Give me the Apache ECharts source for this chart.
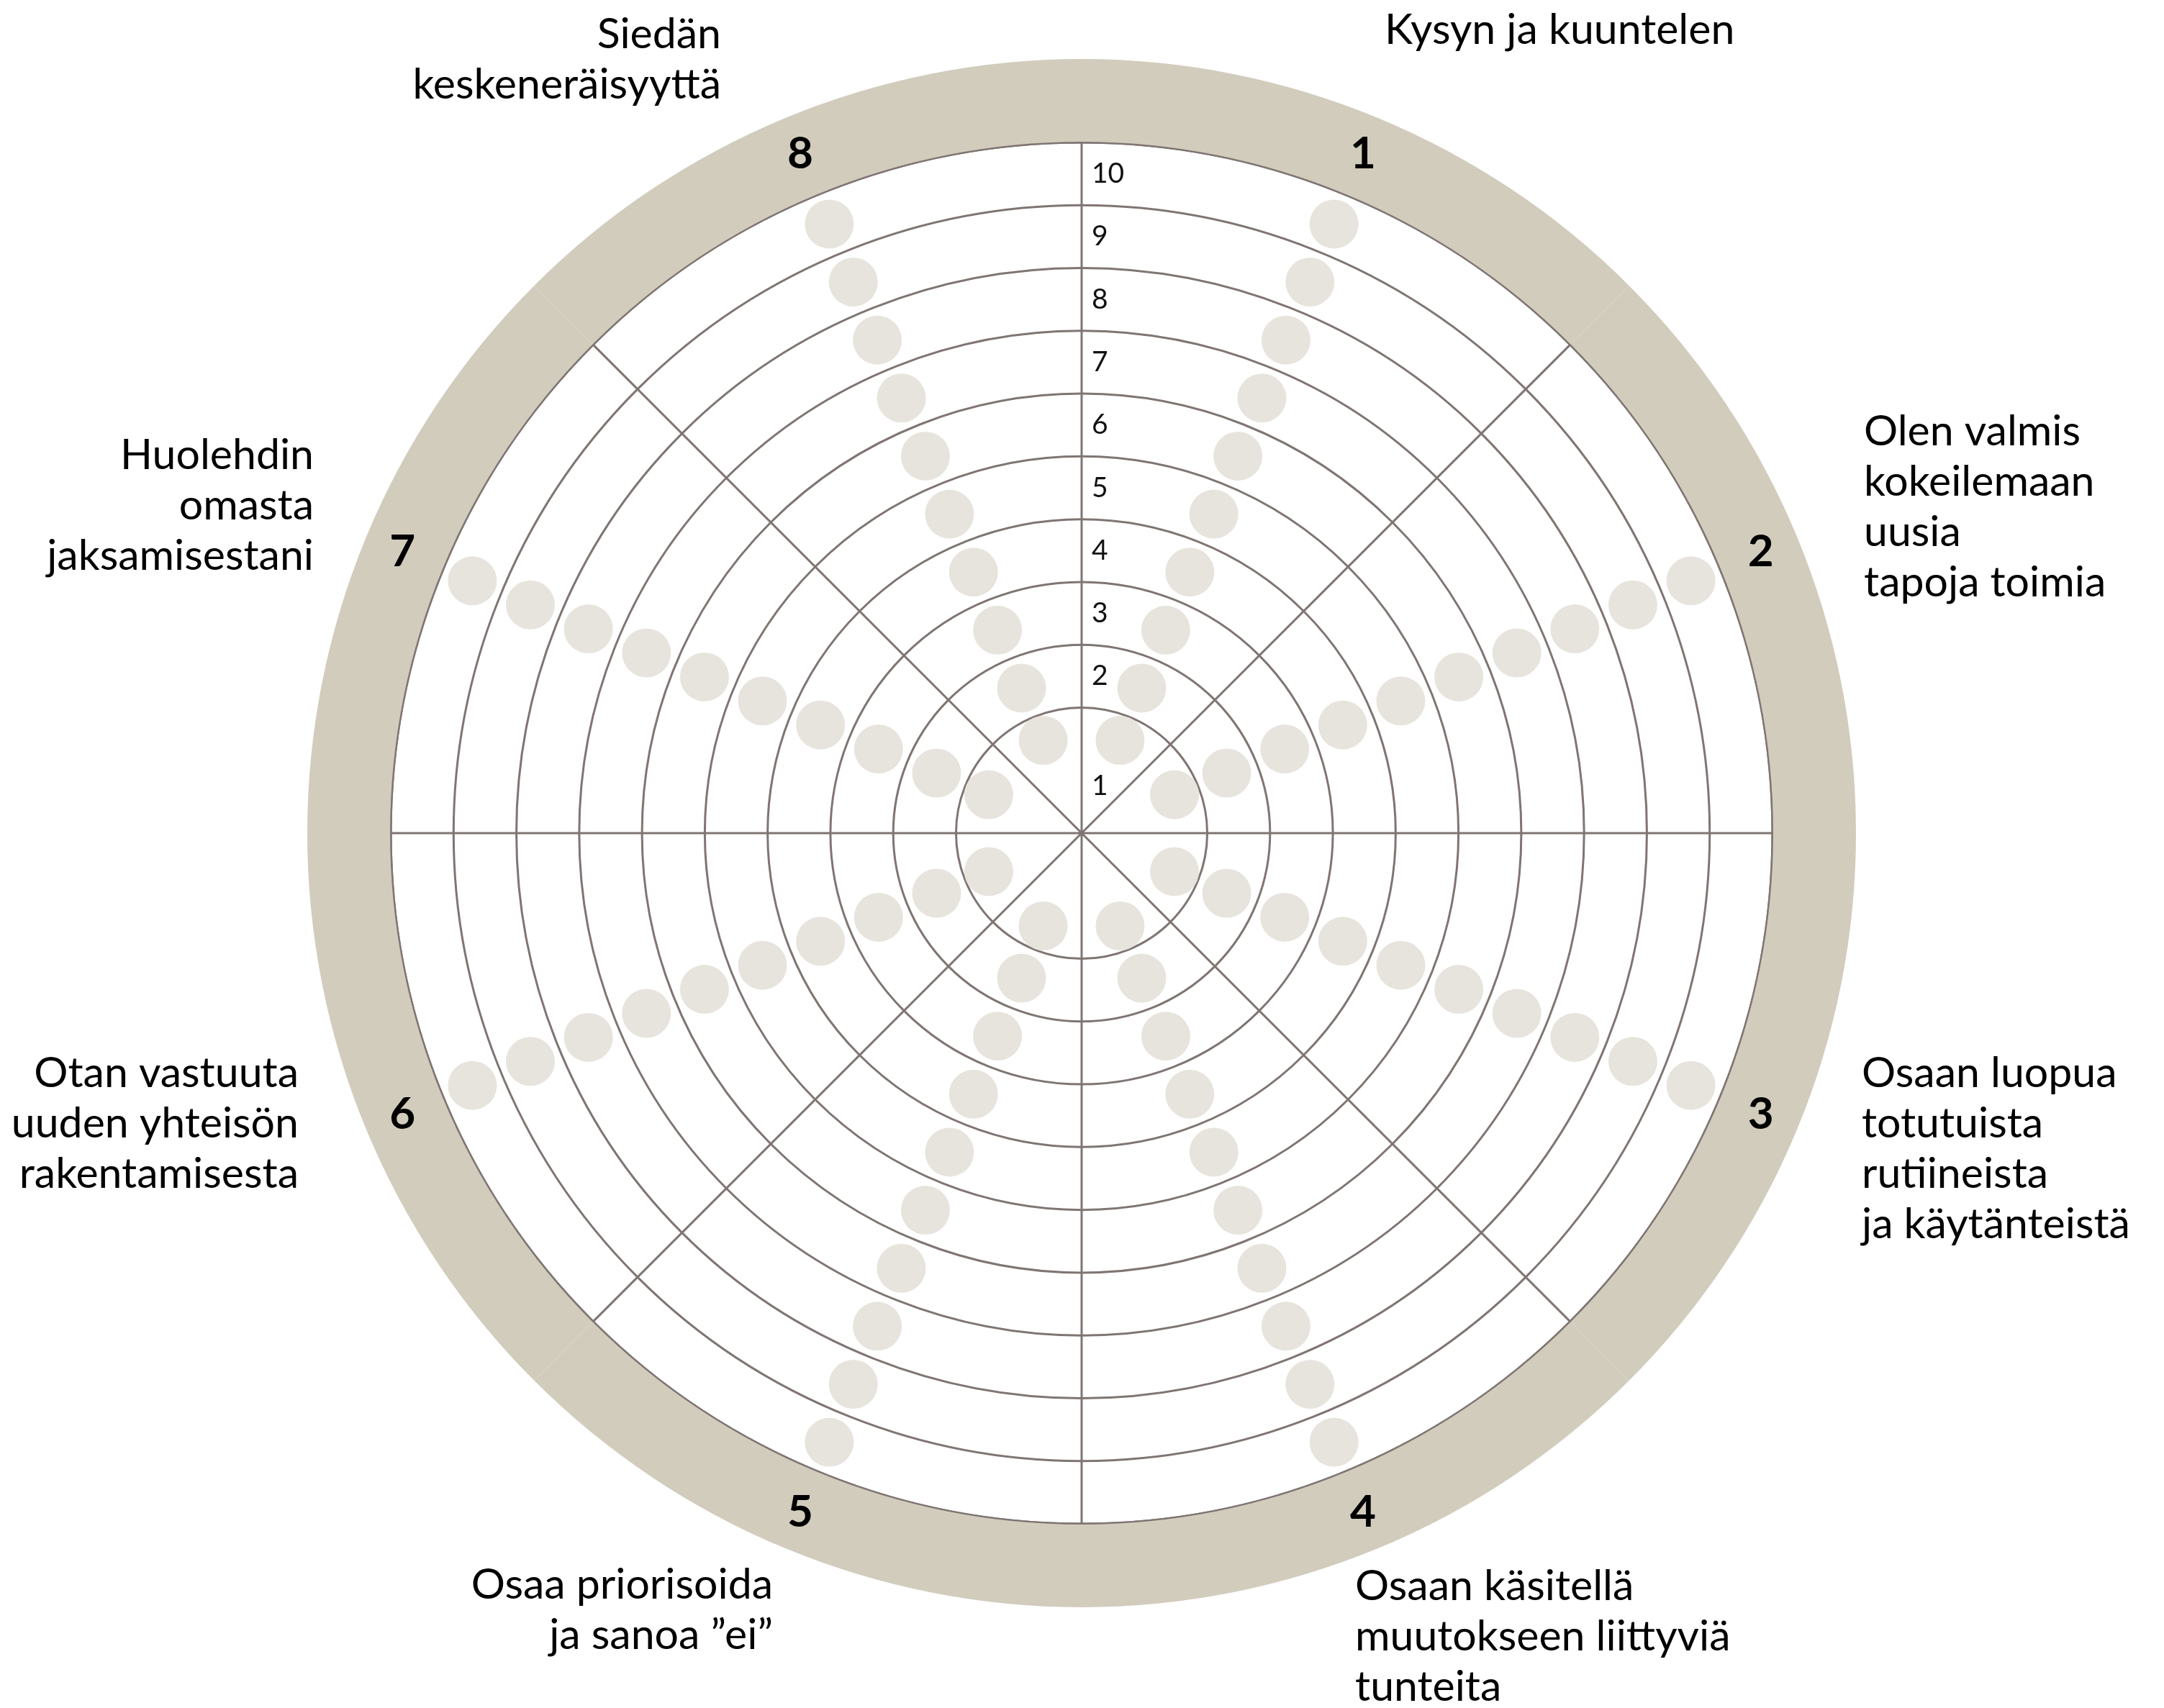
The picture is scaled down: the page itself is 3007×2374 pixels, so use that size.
<!DOCTYPE html>
<html>
<head>
<meta charset="utf-8">
<title>Muutoskyvykkyyden kehä</title>
<script src="https://cdn.jsdelivr.net/npm/echarts@6/dist/echarts.min.js"></script>
<style>
  html, body { margin: 0; padding: 0; background: #fff; }
  #chart { width: 3007px; height: 2374px; }
</style>
</head>
<body>
<div id="chart"></div>
<script>
// sektorit kellon suuntaan ylhäältä
const sectors = ['1', '2', '3', '4', '5', '6', '7', '8'];
const sectorTitles = [
  'Kysyn ja kuuntelen',
  'Olen valmis\nkokeilemaan\nuusia\ntapoja toimia',
  'Osaan luopua\ntotutuista\nrutiineista\nja käytänteistä',
  'Osaan käsitellä\nmuutokseen liittyviä\ntunteita',
  'Osaa priorisoida\nja sanoa ”ei”',
  'Otan vastuuta\nuuden yhteisön\nrakentamisesta',
  'Huolehdin\nomasta\njaksamisestani',
  'Siedän\nkeskeneräisyyttä'
];
// asteikko 1-10
const levels = [1, 2, 3, 4, 5, 6, 7, 8, 9, 10];
// pallojen etäisyys keskeltä (säteen yksiköissä)
const dotRadius = [1.6, 2.5, 3.5, 4.5, 5.5, 6.5, 7.5, 8.5, 9.5, 10.5];
// numeroiden paikat pystyakselilla
const levelLabelRadius = [0.75, 2.5, 3.5, 4.5, 5.5, 6.5, 7.5, 8.5, 9.5, 10.5];
// kehät
const ringValues = [2, 3, 4, 5, 6, 7, 8, 9, 10, 11];

const LINE = '#7f7572';
const BEIGE = '#d2ccbd';
const DOT = '#e7e4dd';
const CENTER = [1503, 1158];

// otsikoiden sijoittelu
const titleLayout = [
  { x: 1924, y: 7, align: 'left' },
  { x: 2590, y: 565, align: 'left' },
  { x: 2587, y: 1457, align: 'left' },
  { x: 1883, y: 2170, align: 'left' },
  { x: 1074, y: 2168, align: 'right' },
  { x: 415, y: 1457, align: 'right' },
  { x: 436, y: 598, align: 'right' },
  { x: 1002, y: 13, align: 'right' }
];

const chart = echarts.init(document.getElementById('chart'));

chart.setOption({
  animation: false,
  backgroundColor: '#fff',
  polar: { center: CENTER, radius: 960 },
  angleAxis: {
    type: 'category',
    data: sectors,
    startAngle: 90,
    clockwise: true,
    boundaryGap: true,
    axisLine: { show: true, lineStyle: { color: LINE, width: 3 } },
    axisTick: { show: false },
    axisLabel: { show: false },
    splitLine: { show: true, lineStyle: { color: LINE, width: 3 } }
  },
  radiusAxis: {
    type: 'value',
    min: 0,
    max: 11,
    interval: 1,
    axisLine: { show: false },
    axisTick: { show: false, customValues: ringValues },
    axisLabel: {
      show: true,
      // numerot akselin oikealle puolelle
      margin: -14,
      align: 'left',
      customValues: levelLabelRadius,
      formatter: function (v) {
        return String(levels[levelLabelRadius.indexOf(v)]);
      },
      fontSize: 39,
      fontFamily: 'Lato',
      color: '#111'
    },
    splitLine: { show: true, lineStyle: { color: LINE, width: 3 } }
  },
  series: [
    {
      // beige reunus ja sektorinumerot
      type: 'pie',
      silent: true,
      center: CENTER,
      radius: [961, 1076],
      startAngle: 90,
      clockwise: true,
      data: sectors.map(s => ({ name: s, value: 1 })),
      itemStyle: { color: BEIGE, borderWidth: 0 },
      label: {
        show: true,
        position: 'inside',
        formatter: '{b}',
        fontSize: 62,
        fontWeight: 'bold',
        fontFamily: 'Lato',
        color: '#000'
      },
      labelLine: { show: false },
      emphasis: { disabled: true },
      z: 1
    },
    {
      type: 'scatter',
      coordinateSystem: 'polar',
      silent: true,
      symbolSize: 68,
      itemStyle: { color: DOT, opacity: 1 },
      data: sectors.flatMap(s => dotRadius.map(r => [r, s])),
      z: 3
    }
  ],
  graphic: sectorTitles.map((t, i) => ({
    type: 'text',
    x: titleLayout[i].x,
    y: titleLayout[i].y,
    silent: true,
    style: {
      text: t,
      fontSize: 59,
      fontFamily: 'Lato',
      fill: '#000',
      align: titleLayout[i].align,
      verticalAlign: 'top',
      lineHeight: 70
    }
  }))
});
</script>
</body>
</html>
